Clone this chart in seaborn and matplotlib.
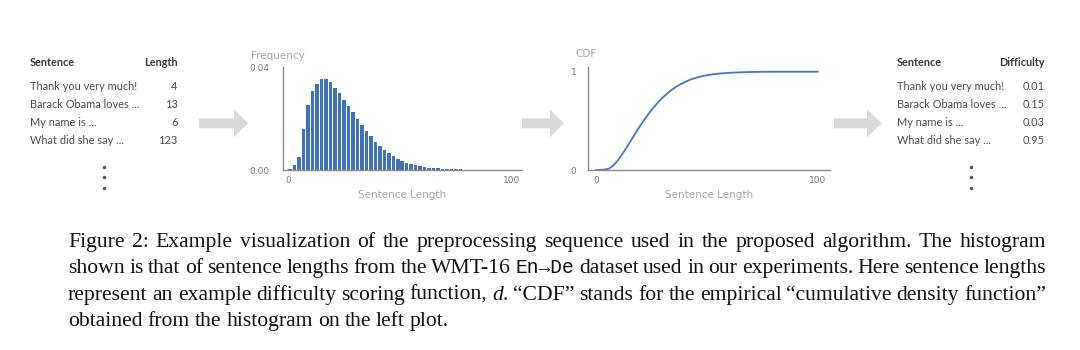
import numpy as np
import pandas as pd
import matplotlib
matplotlib.use("Agg")
import matplotlib.pyplot as plt
import seaborn as sns
from matplotlib.patches import Polygon

# histogram of sentence lengths (bins of width 2, midpoints 1..99)
bin_mid = [1, 3, 5, 7, 9, 11, 13, 15, 17, 19, 21, 23, 25, 27, 29, 31, 33, 35, 37, 39,
           41, 43, 45, 47, 49, 51, 53, 55, 57, 59, 61, 63, 65, 67, 69, 71, 73, 75, 77, 79,
           81, 83, 85, 87, 89, 91, 93, 95, 97, 99]
freq = [0.0003, 0.0020, 0.0052, 0.0162, 0.0253, 0.0309, 0.0337, 0.0356, 0.0354, 0.0342,
        0.0321, 0.0299, 0.0275, 0.0249, 0.0226, 0.0199, 0.0176, 0.0152, 0.0131, 0.0111,
        0.0094, 0.0079, 0.0066, 0.0054, 0.0043, 0.0035, 0.0029, 0.0022, 0.0018, 0.0014,
        0.0012, 0.0009, 0.0008, 0.0007, 0.0005, 0.0004, 0.0003, 0.0002, 0.0002, 0.0001,
        0.0001, 0.0001, 0.0, 0.0, 0.0, 0.0, 0.0, 0.0, 0.0, 0.0]

sentences = ["Thank you very much!", "Barack Obama loves ...", "My name is ...", "What did she say ..."]
lengths = ["4", "13", "6", "123"]
difficulty = ["0.01", "0.15", "0.03", "0.95"]

caption_lines = [
    "Figure 2: Example visualization of the preprocessing sequence used in the proposed algorithm.  The histogram",
    "shown is that of sentence lengths from the WMT-16 <tt>En\u2192De</tt> dataset used in our experiments. Here sentence lengths",
    "represent an example difficulty scoring function, <i>d</i>. \u201cCDF\u201d stands for the empirical \u201ccumulative density function\u201d",
    "obtained from the histogram on the left plot.",
]

df = pd.DataFrame({"length": bin_mid, "freq": freq})
# empirical CDF of the histogram, evaluated at the right edge of each bin
cdf = pd.DataFrame({
    "length": [0] + [m + 1 for m in bin_mid],
    "cdf": np.concatenate([[0.0], np.cumsum(freq) / np.sum(freq)]),
})

sns.set_theme(style="white")
plt.rcParams["font.family"] = ["DejaVu Sans"]

BLUE = "#3f72b5"
LINE = "#4677ba"
AXIS = "#8c8c8c"
LABEL = "#a6a6a6"
TICK = "#7a7a7a"
TXT = "#4d4d4d"
ARROW = "#dadada"

fig = plt.figure(figsize=(10.8, 3.5), dpi=100)
W, H = 1080, 350


def ax_rect(x0, y0, x1, y1):
    return [x0 / W, 1 - y1 / H, (x1 - x0) / W, (y1 - y0) / H]


def style_axes(ax, ypad):
    for s in ["top", "right"]:
        ax.spines[s].set_visible(False)
    for s in ["left", "bottom"]:
        ax.spines[s].set_color(AXIS)
        ax.spines[s].set_linewidth(1.0)
    ax.tick_params(length=0, labelsize=6.5, labelcolor=TICK)
    ax.tick_params(axis="x", pad=4)
    ax.tick_params(axis="y", pad=ypad)
    ax.set_xlabel("Sentence Length", fontsize=7.5, color=LABEL, labelpad=4)
    ax.set_ylabel("")
    ax.grid(False)


# histogram panel
ax1 = fig.add_axes(ax_rect(283, 67.3, 521.7, 170))
sns.histplot(data=df, x="length", weights="freq", binwidth=2, binrange=(0, 100), stat="count",
             color=BLUE, alpha=1, edgecolor="none", shrink=0.78, ax=ax1)
ax1.set_xlim(-2.2, 104.3)
ax1.set_ylim(0, 0.0401)
ax1.set_xticks([0, 100])
ax1.set_yticks([0, 0.04])
ax1.set_yticklabels(["0.00", "0.04"])
style_axes(ax1, 10)
ax1.text(-0.02, 1.06, "Frequency", transform=ax1.transAxes, fontsize=7.5,
         color=LABEL, ha="center", va="bottom")

# CDF panel
ax2 = fig.add_axes(ax_rect(587.7, 66.7, 830, 170))
sns.lineplot(data=cdf, x="length", y="cdf", color=LINE, linewidth=1.3, ax=ax2)
ax2.set_xlim(-3.7, 105.4)
ax2.set_ylim(0, 1.051)
ax2.set_xticks([0, 100])
ax2.set_yticks([0, 1])
style_axes(ax2, 8)
ax2.text(-0.007, 1.07, "CDF", transform=ax2.transAxes, fontsize=7.5,
         color=LABEL, ha="center", va="bottom")

# overlay in pixel coordinates for tables, arrows and caption
ov = fig.add_axes([0, 0, 1, 1], zorder=-1)
ov.set_xlim(0, W)
ov.set_ylim(H, 0)
ov.axis("off")


def arrow(x0, x_head, x_tip, yc=123.3, shaft=10, head=28):
    pts = [(x0, yc - shaft / 2), (x_head, yc - shaft / 2), (x_head, yc - head / 2),
           (x_tip, yc), (x_head, yc + head / 2), (x_head, yc + shaft / 2), (x0, yc + shaft / 2)]
    ov.add_patch(Polygon(pts, closed=True, facecolor=ARROW, edgecolor="none"))


arrow(199, 234, 248)
arrow(515, 550, 564)
arrow(834, 867, 882)

row_y = [86.7, 105.0, 122.3, 140.7]
tfont = ["Lato", "DejaVu Sans"]


def table(x_left, x_right, header, values, x_dots):
    ov.text(x_left, 62.7, "Sentence", fontsize=7.8, fontweight="bold", color="#3a3a3a",
            family=tfont, ha="left", va="center")
    ov.text(x_right, 62.7, header, fontsize=7.8, fontweight="bold", color="#3a3a3a",
            family=tfont, ha="right", va="center")
    for y, s, v in zip(row_y, sentences, values):
        ov.text(x_left, y, s, fontsize=7.9, color=TXT, family=tfont, ha="left", va="center")
        ov.text(x_right, y, v, fontsize=7.9, color=TXT, family=tfont, ha="right", va="center")
    for y in [166.7, 177.3, 187.7]:
        ov.plot([x_dots], [y], marker="o", markersize=1.5, color="#555555")


table(29.5, 177.7, "Length", lengths, 104)
table(896.7, 1045, "Difficulty", difficulty, 970.7)

# caption, justified between x0 and x1
renderer = fig.canvas.get_renderer()
serif = ["Liberation Serif", "DejaVu Serif"]
mono = ["Liberation Mono", "DejaVu Sans Mono"]
cap_size = 15.6
cap_x0, cap_x1 = 68, 1046
cap_base = [247, 273.3, 299.6, 325.9]


def parse(word):
    segs = []
    rest = word
    while rest:
        if rest.startswith("<tt>"):
            end = rest.index("</tt>")
            segs.append((rest[4:end], dict(family=mono, fontsize=cap_size - 1.5)))
            rest = rest[end + 5:]
        elif rest.startswith("<i>"):
            end = rest.index("</i>")
            segs.append((rest[3:end], dict(family=serif, fontsize=cap_size, style="italic")))
            rest = rest[end + 4:]
        else:
            nxt = [i for i in [rest.find("<tt>"), rest.find("<i>")] if i > 0]
            cut = min(nxt) if nxt else len(rest)
            segs.append((rest[:cut], dict(family=serif, fontsize=cap_size)))
            rest = rest[cut:]
    return segs


for i, (line, yb) in enumerate(zip(caption_lines, cap_base)):
    words = [parse(w) for w in line.split(" ") if w]
    placed = []
    total = 0
    for segs in words:
        arts = []
        for s, kw in segs:
            t = ov.text(0, yb, s, color="#111111", ha="left", va="baseline", **kw)
            w = t.get_window_extent(renderer).width
            arts.append((t, w))
            total += w
        placed.append(arts)
    justified = i < len(caption_lines) - 1
    space = 5.0
    if justified:
        space = (cap_x1 - cap_x0 - total) / (len(words) - 1)
    x = cap_x0
    for arts in placed:
        for t, w in arts:
            t.set_x(x)
            x += w
        x += space

fig.savefig("out.png", dpi=100, facecolor="white")
